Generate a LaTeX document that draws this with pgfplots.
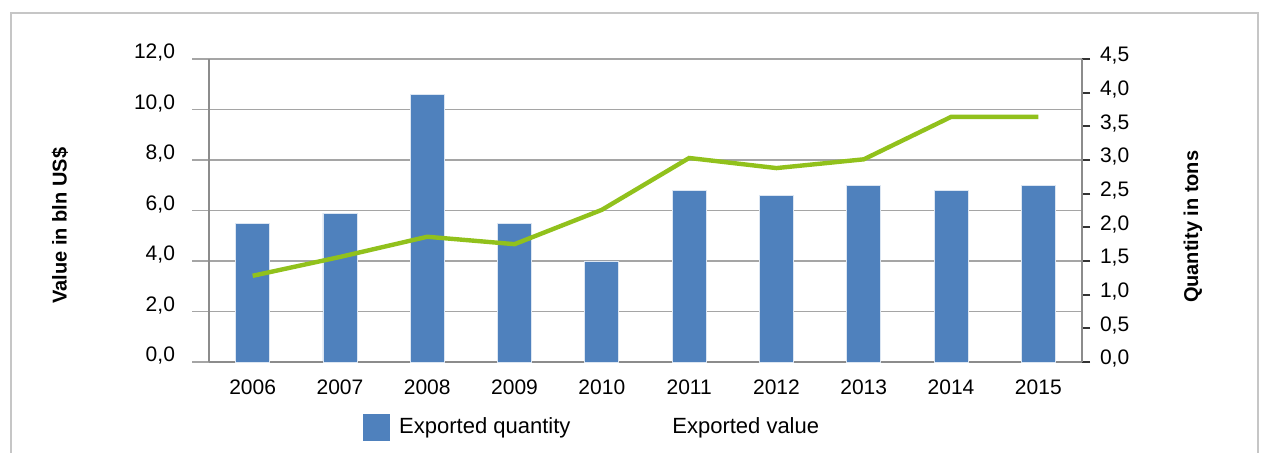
\documentclass[border=0pt]{standalone}
\usepackage{pgfplots}
\pgfplotsset{compat=1.18}
\usepackage{fontspec}
\setmainfont{Liberation Sans}
\definecolor{barblue}{RGB}{79,129,189}
\definecolor{linegreen}{RGB}{145,193,28}
\definecolor{gridgray}{RGB}{165,165,165}
\definecolor{axgray}{RGB}{140,140,140}
\begin{document}
\begin{tikzpicture}[x=0.5pt,y=-0.5pt]
\useasboundingbox (0,0) rectangle (1261,453);
\draw[gray!45, line width=0.7pt] (11,13) rectangle (1258,500);
\begin{axis}[
  at={(104.5pt,-181pt)}, anchor=south west,
  scale only axis, width=436.5pt, height=151.5pt,
  xmin=-0.5, xmax=9.5, ymin=0, ymax=12,
  axis y line*=left, axis x line*=bottom,
  axis line style={axgray, line width=0.8pt},
  xtick={0,...,9},
  xticklabels={2006,2007,2008,2009,2010,2011,2012,2013,2014,2015},
  x tick style={draw=none},
  xticklabel style={font=\fontsize{10.5}{12}\selectfont, yshift=3pt},
  ytick={0,2,...,12},
  y tick style={gridgray, line width=0.6pt},
  tick align=outside, major tick length=8.5pt,
  ymajorgrids, grid style={gridgray, line width=0.6pt},
  /pgf/number format/.cd, fixed, fixed zerofill, precision=1, use comma, assume math mode=true,
  /pgfplots/.cd,
  yticklabel style={font=\fontsize{10.5}{12}\selectfont, xshift=-5pt, yshift=3pt},
  ylabel={Value in bln US\$},
  ylabel style={font=\fontsize{10}{12}\selectfont\bfseries, at={(axis description cs:-0.1707,0.45)}, anchor=center},
  legend style={at={(axis description cs:0.1764,-0.2145)}, anchor=west, draw=none, fill=none,
    font=\fontsize{11}{12}\selectfont, inner sep=0pt,
    nodes={inner sep=2.5pt}},
  legend image code/.code={\fill[barblue] (0pt,-6.5pt) rectangle (13pt,6.5pt);},
]
\addplot[ybar, bar width=17pt, fill=barblue, draw=white!80!barblue, line width=0.4pt] coordinates {
(0,5.5) (1,5.9) (2,10.6) (3,5.5) (4,4.0) (5,6.8) (6,6.6) (7,7.0) (8,6.8) (9,7.0)};
\addlegendentry{\hspace{2pt}Exported quantity}
\end{axis}
\begin{axis}[
  at={(104.5pt,-181pt)}, anchor=south west,
  scale only axis, width=436.5pt, height=151.5pt,
  xmin=-0.5, xmax=9.5, ymin=0, ymax=4.5,
  axis y line*=right, axis x line=none,
  axis line style={axgray, line width=0.8pt},
  ytick={0,0.5,...,4.5},
  y tick style={black!80, line width=1pt},
  tick align=outside, major tick length=4pt,
  /pgf/number format/.cd, fixed, fixed zerofill, precision=1, use comma, assume math mode=true,
  /pgfplots/.cd,
  yticklabel style={font=\fontsize{10.5}{12}\selectfont, xshift=1.5pt, yshift=1.5pt},
  ylabel={Quantity in tons},
  ylabel style={font=\fontsize{10}{12}\selectfont\bfseries, at={(axis description cs:1.127,0.446)}, anchor=center},
  legend style={at={(axis description cs:0.5246,-0.2145)}, anchor=west, draw=none, fill=none,
    font=\fontsize{11}{12}\selectfont, inner sep=0pt,
    nodes={inner sep=2.5pt}},
  legend image code/.code={},
]
\addplot[linegreen, line width=2.2pt] coordinates {
(0,1.28) (1,1.56) (2,1.86) (3,1.75) (4,2.26) (5,3.03) (6,2.88) (7,3.01) (8,3.64) (9,3.64)};
\addlegendentry{Exported value}
\end{axis}
\end{tikzpicture}
\end{document}
